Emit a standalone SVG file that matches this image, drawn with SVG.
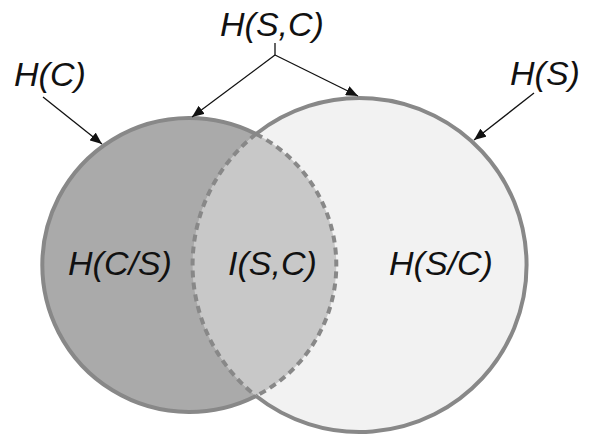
<svg xmlns="http://www.w3.org/2000/svg" width="597" height="435" viewBox="0 0 597 435">
<defs>
<style>
.lbl{font-family:"Liberation Sans",Arial,sans-serif;font-style:italic;font-size:34px;fill:#111}
.edge{stroke:#111;stroke-width:1.3;fill:none}
.solid{fill:none;stroke:#888;stroke-width:4}
.dash{fill:none;stroke:#888;stroke-width:4;stroke-dasharray:7,5}
</style>
<marker id="ah" viewBox="0 0 12 10" refX="12" refY="5" markerWidth="12" markerHeight="10" markerUnits="userSpaceOnUse" orient="auto">
<path d="M0,0 L12,5 L0,10 Z" fill="#111"/>
</marker>
</defs>
<rect width="597" height="435" fill="#fff"/>
<g id="circle-C">
<circle cx="189" cy="265" r="147" fill="#aaaaaa"/>
</g>
<g id="circle-S">
<circle cx="360" cy="265" r="167" fill="#f2f2f2"/>
</g>
<g id="intersection">
<path d="M256,134 A147,147 0 0 1 256,396 A167,167 0 0 1 256,134 Z" fill="#c8c8c8"/>
</g>
<g id="outlines">
<path class="solid" d="M256,134 A147,147 0 1 0 256,396"/>
<path class="solid" d="M256,134 A167,167 0 1 1 256,396"/>
<path class="dash" d="M256,134 A147,147 0 0 1 256,396"/>
<path class="dash" d="M256,134 A167,167 0 0 0 256,396"/>
</g>
<g id="connectors">
<line class="edge" x1="43" y1="97" x2="102" y2="144" marker-end="url(#ah)"/>
<polyline class="edge" points="275,43 275,55"/>
<line class="edge" x1="275" y1="55" x2="192" y2="117" marker-end="url(#ah)"/>
<line class="edge" x1="275" y1="55" x2="358" y2="96" marker-end="url(#ah)"/>
<line class="edge" x1="534" y1="93" x2="474" y2="140" marker-end="url(#ah)"/>
</g>
<g id="label-HC"><text class="lbl" x="14" y="86">H(C)</text></g>
<g id="label-HSC"><text class="lbl" x="220" y="36">H(S,C)</text></g>
<g id="label-HS"><text class="lbl" x="510" y="85">H(S)</text></g>
<g id="label-HCS"><text class="lbl" x="68" y="275">H(C/S)</text></g>
<g id="label-ISC"><text class="lbl" x="228" y="275">I(S,C)</text></g>
<g id="label-HSgC"><text class="lbl" x="389" y="275">H(S/C)</text></g>
</svg>
